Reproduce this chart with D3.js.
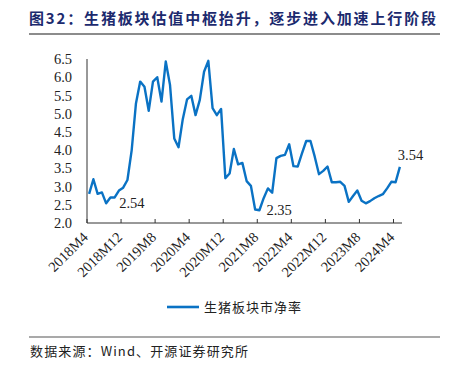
<!DOCTYPE html>
<html>
<head>
  <meta charset="utf-8">
  <title>生猪板块市净率</title>
  <script src="https://cdnjs.cloudflare.com/ajax/libs/d3/7.8.5/d3.min.js"></script>
  <style>
    body {
      margin: 0;
      background: #fff;
    }
    .num {
      font-family: "Liberation Serif", "Times New Roman", serif;
      font-size: 14.5px;
      fill: #222;
    }
    .cjk {
      font-family: "Noto Sans CJK SC", sans-serif;
      fill: #222;
    }
  </style>
</head>
<body>
  <div id="chart"></div>

  <script>
    // Chart data: monthly P/B of the hog farming sector, 2018M4 - 2024M5
    const startYear = 2018, startMonth = 4;
    const pbValues = [
      2.80, 3.20, 2.80, 2.84, 2.54, 2.70, 2.70, 2.89, 2.97, 3.18,
      4.00, 5.28, 5.88, 5.74, 5.08, 5.88, 6.00, 5.33, 6.43, 5.79,
      4.32, 4.08, 4.85, 5.39, 5.49, 4.96, 5.38, 6.15, 6.45, 5.15,
      4.96, 5.13, 3.23, 3.36, 4.03, 3.61, 3.65, 3.15, 3.02, 2.37,
      2.35, 2.68, 2.95, 2.83, 3.78, 3.84, 3.87, 4.16, 3.56, 3.55,
      3.91, 4.25, 4.25, 3.82, 3.34, 3.43, 3.55, 3.12, 3.12, 3.13,
      3.02, 2.58, 2.74, 2.89, 2.61, 2.54, 2.60, 2.68, 2.74, 2.79,
      2.95, 3.13, 3.12, 3.54
    ];
    const months = pbValues.map((v, i) => {
      const m = startMonth - 1 + i;
      return (startYear + Math.floor(m / 12)) + "M" + (m % 12 + 1);
    });
    const tickLabels = ["2018M4", "2018M12", "2019M8", "2020M4", "2020M12",
      "2021M8", "2022M4", "2022M12", "2023M8", "2024M4"];
    const yTicks = [2.0, 2.5, 3.0, 3.5, 4.0, 4.5, 5.0, 5.5, 6.0, 6.5];
    const annotations = [
      { month: "2018M8", text: "2.54", dx: 13, dy: 5 },
      { month: "2021M8", text: "2.35", dx: 7, dy: 5 },
      { month: "2024M5", text: "3.54", dx: -2, dy: -7 }
    ];
    const seriesName = "生猪板块市净率";
    const title = "图32：生猪板块估值中枢抬升，逐步进入加速上行阶段";
    const source = "数据来源：Wind、开源证券研究所";

    const width = 453, height = 367;
    const margin = { left: 87, right: 51, top: 59, bottom: 144 };
    const lineColor = "#0A72C4";

    const svg = d3.select("#chart").append("svg")
      .attr("width", width)
      .attr("height", height);

    // Title and rule
    svg.append("text")
      .attr("class", "cjk")
      .attr("x", 29).attr("y", 24)
      .attr("font-size", 15)
      .attr("font-weight", "bold")
      .attr("textLength", 407)
      .attr("lengthAdjust", "spacing")
      .style("fill", "#1c2a6e")
      .text(title);
    svg.append("line")
      .attr("x1", 29).attr("x2", 440)
      .attr("y1", 34).attr("y2", 34)
      .attr("stroke", "#8c8c8c").attr("stroke-width", 2);

    // Scales
    const x = d3.scaleBand()
      .domain(months)
      .range([margin.left, width - margin.right])
      .paddingInner(0).paddingOuter(0);
    const y = d3.scaleLinear()
      .domain([2.0, 6.5])
      .range([height - margin.bottom, margin.top]);

    const x0 = margin.left, y0 = height - margin.bottom;

    // Y axis
    svg.append("line")
      .attr("x1", x0).attr("x2", x0)
      .attr("y1", y(6.5)).attr("y2", y0)
      .attr("stroke", "#333").attr("stroke-width", 1);
    svg.selectAll(".ytick")
      .data(yTicks)
      .enter().append("text")
      .attr("class", "num")
      .attr("x", x0 - 15)
      .attr("y", d => y(d))
      .attr("dy", "0.35em")
      .attr("text-anchor", "end")
      .text(d => d.toFixed(1));

    // X axis
    svg.append("line")
      .attr("x1", x0).attr("x2", width - margin.right)
      .attr("y1", y0).attr("y2", y0)
      .attr("stroke", "#333").attr("stroke-width", 1);
    svg.selectAll(".xtick")
      .data(tickLabels)
      .enter().append("line")
      .attr("x1", d => x(d)).attr("x2", d => x(d))
      .attr("y1", y0).attr("y2", y0 - 4)
      .attr("stroke", "#333");
    svg.selectAll(".xlabel")
      .data(tickLabels)
      .enter().append("text")
      .attr("class", "num")
      .attr("text-anchor", "end")
      .attr("transform", d => `translate(${x(d) + 2},${y0 + 15}) rotate(-45)`)
      .text(d => d);

    // Series line
    const line = d3.line()
      .x((d, i) => x(months[i]) + x.bandwidth() / 2)
      .y(d => y(d));
    svg.append("path")
      .datum(pbValues)
      .attr("fill", "none")
      .attr("stroke", lineColor)
      .attr("stroke-width", 2.4)
      .attr("stroke-linejoin", "round")
      .attr("d", line);

    // Value labels
    svg.selectAll(".anno")
      .data(annotations)
      .enter().append("text")
      .attr("class", "num")
      .attr("x", d => x(d.month) + x.bandwidth() / 2 + d.dx)
      .attr("y", d => y(pbValues[months.indexOf(d.month)]) + d.dy)
      .text(d => d.text);

    // Legend
    svg.append("line")
      .attr("x1", 167).attr("x2", 199)
      .attr("y1", 307).attr("y2", 307)
      .attr("stroke", lineColor).attr("stroke-width", 2.6);
    svg.append("text")
      .attr("class", "cjk")
      .attr("x", 204).attr("y", 312)
      .attr("font-size", 13)
      .attr("letter-spacing", 1)
      .text(seriesName);

    // Bottom rule and source
    svg.append("line")
      .attr("x1", 29).attr("x2", 440)
      .attr("y1", 337).attr("y2", 337)
      .attr("stroke", "#8c8c8c").attr("stroke-width", 1.5);
    svg.append("text")
      .attr("class", "cjk")
      .attr("x", 30).attr("y", 356)
      .attr("font-size", 13)
      .attr("textLength", 218)
      .attr("lengthAdjust", "spacing")
      .text(source);
  </script>
</body>
</html>
